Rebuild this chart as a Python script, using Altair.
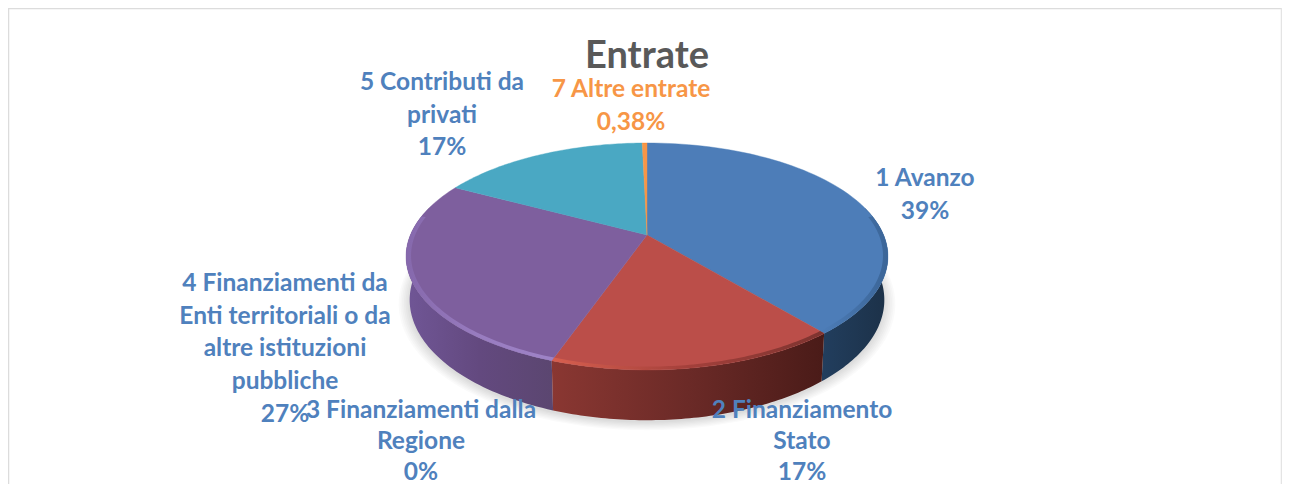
import math
import altair as alt

categories = ["1 Avanzo", "2 Finanziamento Stato", "3 Finanziamenti dalla Regione",
              "4 Finanziamenti da Enti territoriali o da altre istituzioni pubbliche",
              "5 Contributi da privati", "7 Altre entrate"]
values = [38.9, 16.4, 0.0, 27.4, 16.8, 0.38]
label_lines = [
    ["1 Avanzo", "39%"],
    ["2 Finanziamento", "Stato", "17%"],
    ["3 Finanziamenti dalla", "Regione", "0%"],
    ["4 Finanziamenti da", "Enti territoriali o da", "altre istituzioni", "pubbliche", "27%"],
    ["5 Contributi da", "privati", "17%"],
    ["7 Altre entrate", "0,38%"],
]
title_text = "Entrate"

FONT = "Lato"
LABEL_SIZE = 24.5
OFF = 8  # page margin
W, H = 1274, 476
top_colors = ["#4d7db8", "#bb4e49", "#bb4e49", "#7e5f9e", "#4aa8c3", "#f79646"]
label_colors = ["#4f81bd"] * 5 + ["#f79646"]
label_pos = [(925, 186), (802, 418), (421, 418), (285, 291), (442, 90), (631, 97)]
label_leading = [32.7, 31, 31, 32.7, 32.7, 32.7]

wall_stops = {
    0: ["#223e5e", "#1c3148"],
    1: ["#8a3732", "#6b2a27", "#4a1b18"],
    3: ["#705696", "#63497f", "#5b4670"],
}
band_stops = {
    0: ["#4d7db8", "#3a6496"],
    1: ["#d9604f", "#a23f3a", "#7a322e"],
    3: ["#8669ad", "#9a7ec2", "#a085c9"],
}

CX, CY, A, B, K = 647 - OFF, 235 - OFF, 236.6, 109.4, 0.189
BCX, BCY, BA, BB, BK = 647 - OFF, 277 - OFF, 233.0, 116.0, 0.19


def top_pt(r, t):
    X, Y = r * math.sin(t), r * math.cos(t)
    d = 1 + K * Y
    return [CX + A * X / d, CY - B * Y / d]


def bot_pt(r, t, dy=0):
    X, Y = r * math.sin(t), r * math.cos(t)
    d = 1 + BK * Y
    return [BCX + BA * X / d, BCY + dy - BB * Y / d]


def arc(fn, r, t0, t1, n=70):
    return [fn(r, t0 + (t1 - t0) * i / n) for i in range(n + 1)]


def feature(ring):
    ring = ring + [ring[0]]
    return {"type": "Feature", "properties": {}, "geometry": {"type": "Polygon", "coordinates": [ring]}}


def grad(stops):
    n = len(stops) - 1
    return alt.Gradient(gradient="linear", x1=0, x2=1, y1=0, y2=0,
                        stops=[alt.GradientStop(offset=i / n, color=c) for i, c in enumerate(stops)])


def shape(ring, **kw):
    return alt.Chart(alt.InlineData(values=[feature(ring)])).mark_geoshape(**kw).project(**{
        "type": "identity", "scale": 1, "translate": [0, 0]})


total = sum(values)
angles = [0.0]
for v in values:
    angles.append(angles[-1] + v / total * 2 * math.pi)

layers = []

# frame
frame = alt.Chart(alt.InlineData(values=[{"a": 0}]))
layers.append(frame.mark_rule(color="#dcdcdc", strokeWidth=1.5).encode(
    x=alt.value(0), x2=alt.value(W), y=alt.value(0.5)))
layers.append(frame.mark_rule(color="#dcdcdc", strokeWidth=1.5).encode(
    x=alt.value(0.5), y=alt.value(0), y2=alt.value(H)))
layers.append(frame.mark_rule(color="#e4e4e4", strokeWidth=1.5).encode(
    x=alt.value(W - 0.5), y=alt.value(0), y2=alt.value(H)))

# soft shadow
for i in range(7):
    r = 1.045 - i * 0.007
    ring = arc(lambda rr, t: bot_pt(rr, t, 2), r, 0, 2 * math.pi, 120)
    layers.append(shape(ring, fill="#000000", fillOpacity=0.018, stroke=None))

# walls
for i in [0, 3, 1]:
    t0, t1 = angles[i], angles[i + 1]
    t0 = max(t0, math.radians(75))
    t1 = min(t1, math.radians(285))
    ring = arc(top_pt, 1, t0, t1) + arc(bot_pt, 1, t1, t0)
    layers.append(shape(ring, fill=grad(wall_stops[i]), stroke=None))

# top faces
for i, v in enumerate(values):
    if v <= 0:
        continue
    ring = [top_pt(0, 0)] + arc(top_pt, 1, angles[i], angles[i + 1])
    layers.append(shape(ring, fill=top_colors[i], stroke=top_colors[i], strokeWidth=0.4))

# bevel bands on the rim
for i, stops in band_stops.items():
    t0, t1 = angles[i], angles[i + 1]
    if i == 0:
        t0 = math.radians(80)
    if i == 3:
        t1 = math.radians(280)
    ring = arc(top_pt, 1, t0, t1) + arc(top_pt, 0.98, t1, t0)
    layers.append(shape(ring, fill=grad(stops), stroke=None, opacity=0.95))

# title
layers.append(frame.mark_text(font=FONT, fontWeight="bold", fontSize=38, color="#595959",
                              align="center", baseline="alphabetic").encode(
    x=alt.value(647 - OFF), y=alt.value(68 - OFF), text=alt.value(title_text)))

# labels
for lines, col, (px, py), lead in zip(label_lines, label_colors, label_pos, label_leading):
    layers.append(alt.Chart(alt.InlineData(values=[{"t": "\n".join(lines)}])).mark_text(
        font=FONT, fontWeight="bold", fontSize=LABEL_SIZE, color=col, align="center",
        baseline="alphabetic", lineBreak="\n", lineHeight=lead).encode(
        x=alt.value(px - OFF), y=alt.value(py - OFF), text="t:N"))

chart = alt.layer(*layers).properties(
    width=W, height=H, padding=0, autosize=alt.AutoSizeParams(type="none"),
    background="white"
).configure_view(stroke=None)

chart.save("out.html", embed_options={"renderer": "svg", "actions": False})
